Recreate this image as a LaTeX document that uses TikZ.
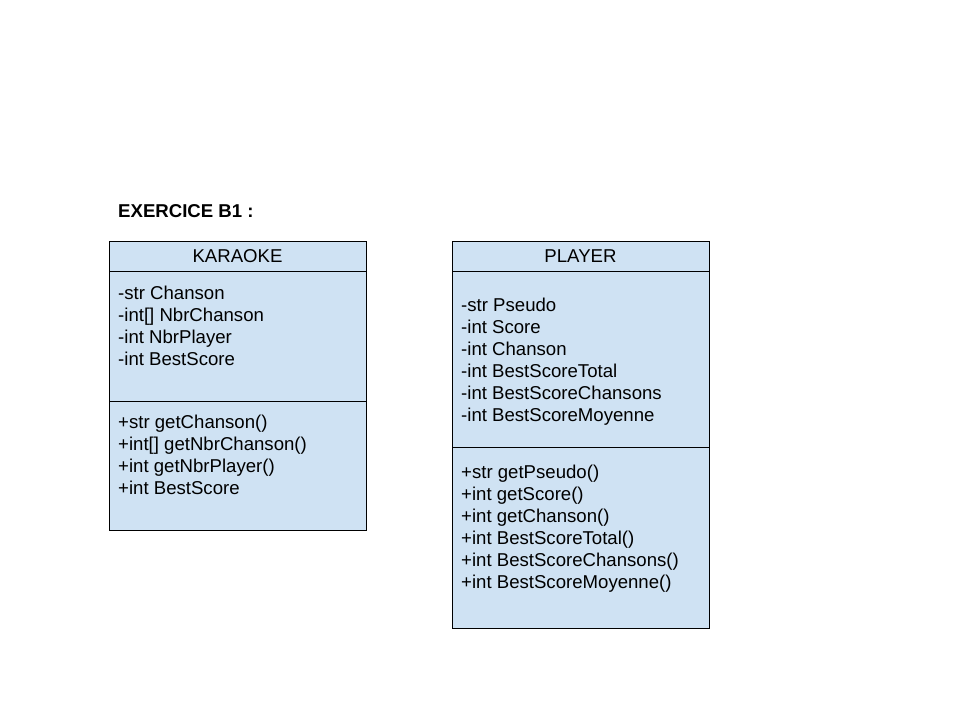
\documentclass[tikz,border=0pt]{standalone}
\usepackage{fontspec}
\setmainfont{Liberation Sans}
\definecolor{boxfill}{HTML}{CFE2F3}
\begin{document}
\begin{tikzpicture}[x=1pt,y=-1pt,
  classbox/.style={draw=black,fill=boxfill,line width=0.9pt},
  sep/.style={draw=black,line width=0.9pt},
  txt/.style={anchor=base west,inner sep=0pt,font=\fontsize{18.6}{22}\selectfont},
  ttl/.style={anchor=base,inner sep=0pt,font=\fontsize{18.6}{22}\selectfont}]
\useasboundingbox[fill=white] (0,0) rectangle (960,720);
\node[anchor=base west,inner sep=0pt,font=\fontsize{18.6}{22}\selectfont\bfseries] (title) at (118,217.5) {EXERCICE B1 :};
% KARAOKE
\path[classbox] (109,241) rectangle (366,530);
\draw[sep] (109,271) -- (366,271);
\draw[sep] (109,401) -- (366,401);
\node[ttl] (kname) at (237.5,262.5) {KARAOKE};
\foreach \t [count=\i] in {-str Chanson,-int[] NbrChanson,-int NbrPlayer,-int BestScore}
  \node[txt] (ka\i) at (118,{299.5+22*(\i-1)}) {\t};
\foreach \t [count=\i] in {+str getChanson(),+int[] getNbrChanson(),+int getNbrPlayer(),+int BestScore}
  \node[txt] (km\i) at (118,{428.5+22*(\i-1)}) {\t};
% PLAYER
\path[classbox] (452,241) rectangle (709,628);
\draw[sep] (452,271) -- (709,271);
\draw[sep] (452,447) -- (709,447);
\node[ttl] (pname) at (580.5,262.5) {PLAYER};
\foreach \t [count=\i] in {-str Pseudo,-int Score,-int Chanson,-int BestScoreTotal,-int BestScoreChansons,-int BestScoreMoyenne}
  \node[txt] (pa\i) at (461,{311.5+22*(\i-1)}) {\t};
\foreach \t [count=\i] in {+str getPseudo(),+int getScore(),+int getChanson(),+int BestScoreTotal(),+int BestScoreChansons(),+int BestScoreMoyenne()}
  \node[txt] (pm\i) at (461,{478.5+22*(\i-1)}) {\t};
\end{tikzpicture}
\end{document}
